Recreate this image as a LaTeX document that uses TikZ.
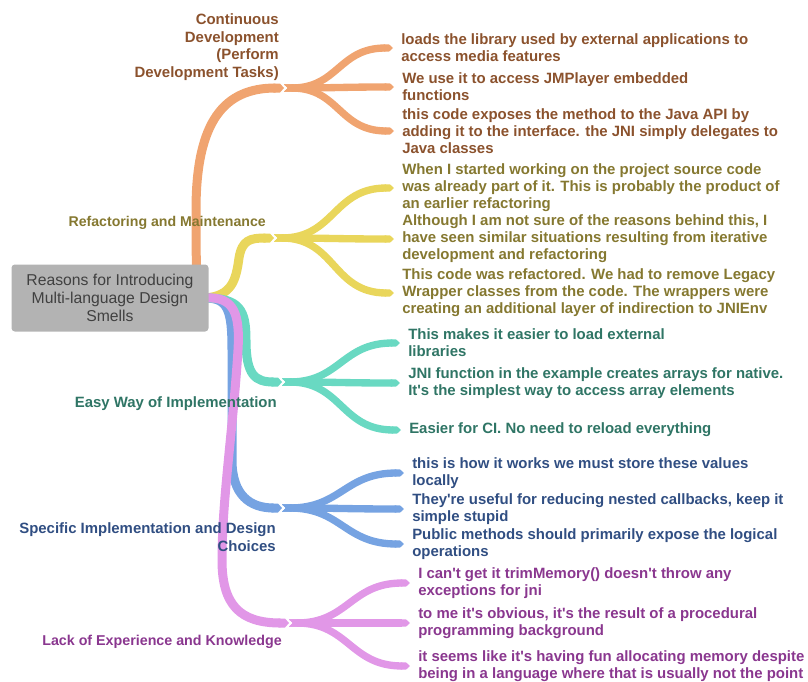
\documentclass[tikz,border=0pt]{standalone}
\usepackage{fontspec}
\setmainfont{Liberation Sans}[Ligatures=TeXOff]
\usetikzlibrary{arrows.meta,backgrounds}

\definecolor{brOrange}{HTML}{F0A470}
\definecolor{txOrange}{HTML}{8B522D}
\definecolor{brYellow}{HTML}{E9D65B}
\definecolor{txYellow}{HTML}{857830}
\definecolor{brTeal}{HTML}{69D9C2}
\definecolor{txTeal}{HTML}{2F7565}
\definecolor{brBlue}{HTML}{76A3E2}
\definecolor{txBlue}{HTML}{304E82}
\definecolor{brPurple}{HTML}{E197E7}
\definecolor{txPurple}{HTML}{8A378F}
\definecolor{rootgray}{HTML}{B3B3B3}
\definecolor{roottext}{HTML}{404040}

\tikzset{
  root/.style={fill=rootgray, rounded corners=2.5pt, minimum width=147.75pt, minimum height=50.25pt,
    align=center, inner sep=0pt, text=roottext, font=\fontsize{11.8}{13.5}\selectfont},
  trunk/.style={line width=6.75pt, -{Triangle Cap[length=3pt]}},
  twig/.style={line width=5.5pt, {Triangle Cap[reversed,length=3pt]}-{Triangle Cap[length=3pt]}},
  sbend/.style={out=0, in=180, looseness=1.2},
  leaf/.style={anchor=west, align=left, inner xsep=6pt, inner ysep=0pt,
    font=\bfseries\fontsize{11.2}{12.75}\selectfont},
  topic/.style={anchor=east, align=right, inner sep=0pt,
    font=\bfseries\fontsize{#1}{13.2}\selectfont},
  topic/.default=11.2,
}

\begin{document}
\begin{tikzpicture}[x=0.75pt,y=-0.75pt]
    \useasboundingbox (0,0) rectangle (808,682);

    \node[root] (root) at (110,298) {Reasons for Introducing\\Multi-language Design\\Smells};
    \coordinate (hub) at (205,298);

    % branch points
    \coordinate (ob) at (284,88);
    \coordinate (yb) at (274,238);
    \coordinate (tb) at (282,382);
    \coordinate (bb) at (282,508);
    \coordinate (pb) at (289,623);

    % topics
    \node[topic,text=txOrange] (ot) at (279,47) {Continuous\\Development\\(Perform\\Development Tasks)};
    \node[topic=10.6,text=txYellow] (yt) at (266,223) {Refactoring and Maintenance};
    \node[topic,text=txTeal] (tt) at (277,404) {Easy Way of Implementation};
    \node[topic,text=txBlue] (bt) at (276,537) {Specific Implementation and Design\\Choices};
    \node[topic=10.7,text=txPurple] (pt) at (282,642) {Lack of Experience and Knowledge};

    % leaves
    \node[leaf,text=txOrange] (o1) at (393,48) {loads the library used by external applications to\\access media features};
    \node[leaf,text=txOrange] (o2) at (394,87) {We use it to access JMPlayer embedded\\functions};
    \node[leaf,text=txOrange] (o3) at (394,131) {this code exposes the method to the Java API by\\adding it to the interface. the JNI simply delegates to\\Java classes};
    \node[leaf,text=txYellow] (y1) at (394,188) {When I started working on the project source code\\was already part of it. This is probably the product of\\an earlier refactoring};
    \node[leaf,text=txYellow] (y2) at (394,239) {Although I am not sure of the reasons behind this, I\\have seen similar situations resulting from iterative\\development and refactoring};
    \node[leaf,text=txYellow] (y3) at (394,293) {This code was refactored. We had to remove Legacy\\Wrapper classes from the code. The wrappers were\\creating an additional layer of indirection to JNIEnv};
    \node[leaf,text=txTeal] (t1) at (400,343) {This makes it easier to load external\\libraries};
    \node[leaf,text=txTeal] (t2) at (400,383) {JNI function in the example creates arrays for native.\\It's the simplest way to access array elements};
    \node[leaf,text=txTeal] (t3) at (401,430) {Easier for CI. No need to reload everything};
    \node[leaf,text=txBlue] (b1) at (404,473) {this is how it works we must store these values\\locally};
    \node[leaf,text=txBlue] (b2) at (404,509) {They're useful for reducing nested callbacks, keep it\\simple stupid};
    \node[leaf,text=txBlue] (b3) at (404,544) {Public methods should primarily expose the logical\\operations};
    \node[leaf,text=txPurple] (p1) at (410,583) {I can't get it trimMemory() doesn't throw any\\exceptions for jni};
    \node[leaf,text=txPurple] (p2) at (410,623) {to me it's obvious, it's the result of a procedural\\programming background};
    \node[leaf,text=txPurple] (p3) at (410,666) {it seems like it's having fun allocating memory despite\\being in a language where that is usually not the point};

    \begin{scope}[on background layer]
    \draw[trunk,brOrange] (hub) .. controls (196,298) and (196,270) .. (196,210) .. controls (196,120) and (225,88) .. (ob);
    \draw[trunk,brYellow] (hub) .. controls (232,296) and (236,280) .. (239,258) .. controls (242,240) and (250,238) .. (yb);
    \draw[trunk,brBlue] (hub) .. controls (228,298) and (232,310) .. (232,350) -- (232,460) .. controls (232,495) and (250,508) .. (bb);
    \draw[trunk,brTeal] (hub) .. controls (240,298) and (246,310) .. (246,340) .. controls (246,375) and (255,382) .. (tb);
    \draw[trunk,brPurple] (hub) .. controls (235,296) and (240,315) .. (238,350) .. controls (233,430) and (222,500) .. (222,560) .. controls (222,605) and (240,623) .. (pb);
    \end{scope}

    \draw[twig,brOrange] (ob) to[sbend] (o1.west);
    \draw[twig,brOrange] (ob) to[sbend] (o3.west);
    \draw[twig,brOrange] (ob) to[sbend] (o2.west);
    \draw[twig,brYellow] (yb) to[sbend] (y1.west);
    \draw[twig,brYellow] (yb) to[sbend] (y3.west);
    \draw[twig,brYellow] (yb) to[sbend] (y2.west);
    \draw[twig,brTeal] (tb) to[sbend] (t1.west);
    \draw[twig,brTeal] (tb) to[sbend] (t3.west);
    \draw[twig,brTeal] (tb) to[sbend] (t2.west);
    \draw[twig,brBlue] (bb) to[sbend] (b1.west);
    \draw[twig,brBlue] (bb) to[sbend] (b3.west);
    \draw[twig,brBlue] (bb) to[sbend] (b2.west);
    \draw[twig,brPurple] (pb) to[sbend] (p1.west);
    \draw[twig,brPurple] (pb) to[sbend] (p3.west);
    \draw[twig,brPurple] (pb) to[sbend] (p2.west);
\end{tikzpicture}
\end{document}
